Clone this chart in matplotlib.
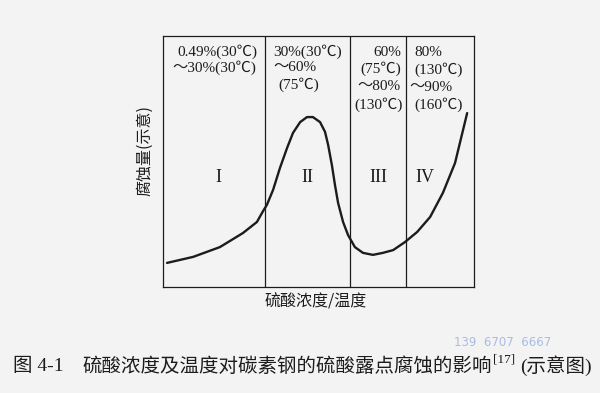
#!/usr/bin/python
# -*- coding: utf-8 -*-
"""
description     Schematic of sulfuric acid dew point corrosion of carbon steel
                versus acid concentration / temperature (Fig. 4-1).
"""
###############################################################################
import numpy as np
import matplotlib
matplotlib.use('Agg')
import matplotlib.pyplot as plt
###############################################################################

#### Namelist
##############################################################################
# curve (relative units, 0..100 on both axes)
conc = [1.3, 9.7, 18.3, 25.7, 30.2, 32.2, 33.4, 35.4, 37.6, 39.9, 41.8,
        44.1, 46.3, 48.2, 50.5, 52.1, 53.1, 54.3, 55.3, 56.3, 57.9, 59.5,
        61.7, 64.3, 67.5, 70.7, 74.0, 77.8, 81.7, 85.9, 90.0, 93.9, 97.8]
corrosion = [9.6, 12.0, 15.9, 21.5, 25.9, 30.3, 32.7, 38.7, 47.4, 55.4, 61.4,
             65.7, 67.7, 67.7, 65.7, 61.8, 56.6, 48.6, 40.6, 33.5, 25.9, 20.7,
             15.9, 13.6, 12.8, 13.6, 14.7, 17.9, 21.9, 27.9, 37.5, 49.4, 69.3]

# region boundaries
bounds = [32.8, 60.1, 78.1]
region_names = ['I', 'II', 'III', 'IV']
region_pos = [17.7, 46.3, 69.1, 84.2]

# region descriptions (one list of lines per region)
region_text = [
    ['0.49%(30℃)', '～30%(30℃)'],
    ['30%(30℃)', '～60%', '(75℃)'],
    ['60%', '(75℃)', '～80%', '(130℃)'],
    ['80%', '(130℃)', '～90%', '(160℃)'],
]

xlabel = '硫酸浓度/温度'
ylabel = '腐蚀量(示意)'
caption_num = '图 4-1'
caption_main = '硫酸浓度及温度对碳素钢的硫酸露点腐蚀的影响'
caption_ref = '[17]'
caption_end = '(示意图)'
watermark = '139  6707  6667'

bg = '#f3f3f3'
ink = '#1c1c1c'
cjk = ['Noto Sans CJK SC', 'DejaVu Sans']
serif = ['Liberation Serif', 'Noto Sans CJK SC', 'DejaVu Sans']

#### Plot
##############################################################################
W, H = 600, 393
fig = plt.figure(figsize=(W / 100, H / 100), dpi=100, facecolor=bg)

# axes placed on the box of the original figure
x0, x1, y0, y1 = 163, 474, 36, 287
ax = fig.add_axes([x0 / W, 1 - y1 / H, (x1 - x0) / W, (y1 - y0) / H])
ax.set_facecolor(bg)
ax.set_xlim(0, 100)
ax.set_ylim(0, 100)
ax.set_xticks([])
ax.set_yticks([])
for s in ax.spines.values():
    s.set_color(ink)
    s.set_linewidth(0.9)

for b in bounds:
    ax.axvline(b, color=ink, lw=0.9)

ax.plot(conc, corrosion, color=ink, lw=1.7, solid_joinstyle='round',
        solid_capstyle='round')

for name, xp in zip(region_names, region_pos):
    ax.text(xp, 43.5, name, family=serif, fontsize=13, color=ink,
            ha='center', va='center')

# region labels at top
line_y = [[93.6, 87.3], [93.6, 87.3, 80.5], [93.6, 87.0, 79.8, 72.5],
          [93.6, 86.6, 79.4, 72.5]]
line_x = [[4.5, 2.9], [35.4, 35.4, 37.0], [76.5, 76.5, 76.5, 77.0],
          [80.7, 80.7, 79.1, 80.9]]
align = ['left', 'left', 'right', 'left']
for lines, ys, xs, ha in zip(region_text, line_y, line_x, align):
    for t, yy, xx in zip(lines, ys, xs):
        ax.text(xx, yy, t, family=serif, fontsize=11, color=ink,
                ha=ha, va='center')

# axis labels
fig.text(145 / W, 1 - 151 / H, ylabel, family=cjk, fontsize=11.5, color=ink,
         rotation=90, ha='center', va='center')
fig.text(316 / W, 1 - 302 / H, xlabel, family=cjk, fontsize=11.5, color=ink,
         ha='center', va='center')

# caption
fig.text(13 / W, 1 - 366 / H, caption_num, family=serif, fontsize=14,
         color=ink, ha='left', va='center')
fig.text(82 / W, 1 - 366 / H, caption_main, family=cjk, fontsize=14,
         color=ink, ha='left', va='center')
fig.text(493 / W, 1 - 360 / H, caption_ref, family=serif, fontsize=9.5,
         color=ink, ha='left', va='center')
fig.text(592 / W, 1 - 366 / H, caption_end, family=serif, fontsize=14,
         color=ink, ha='right', va='center')

# phone number stamp
fig.text(503 / W, 1 - 343 / H, watermark, family='DejaVu Sans', fontsize=8.5,
         color='#a9bde0', ha='center', va='center')

fig.savefig('out.png', dpi=100, facecolor=bg)
